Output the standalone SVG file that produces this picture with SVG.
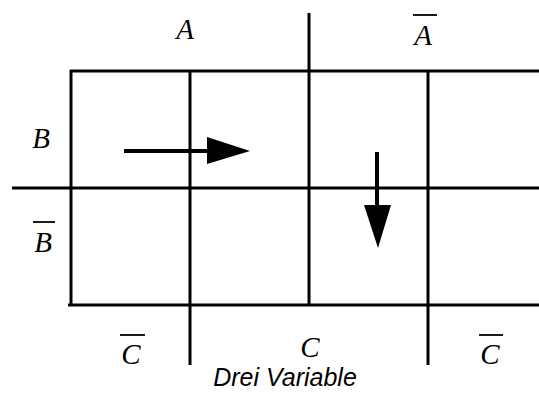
<svg xmlns="http://www.w3.org/2000/svg" width="539" height="394" viewBox="0 0 539 394">
<style>
.g{stroke:#000;stroke-width:3;fill:none}
.v{font-family:"Liberation Serif",serif;font-style:italic;font-size:29px;fill:#000;text-anchor:middle}
.ob{stroke:#000;stroke-width:1.8}
.cap{font-family:"Liberation Sans",sans-serif;font-style:italic;font-size:25px;fill:#000;text-anchor:middle}
</style>
<rect width="539" height="394" fill="#fff"/>
<g id="grid" class="g">
<line x1="70" y1="71" x2="539" y2="71"/>
<line x1="12" y1="188" x2="539" y2="188"/>
<line x1="68" y1="305" x2="539" y2="305"/>
<line x1="71" y1="70" x2="71" y2="305"/>
<line x1="190" y1="70" x2="190" y2="365"/>
<line x1="309" y1="13" x2="309" y2="305"/>
<line x1="428" y1="70" x2="428" y2="365"/>
</g>
<g id="labels">
<text class="v" x="185" y="39">A</text>
<text class="v" x="423" y="45">A</text><line class="ob" x1="413" y1="15" x2="437" y2="15"/>
<text class="v" x="41" y="148">B</text>
<text class="v" x="43" y="252">B</text><line class="ob" x1="33" y1="222" x2="55" y2="222"/>
<text class="v" x="131" y="364">C</text><line class="ob" x1="120" y1="335" x2="145" y2="335"/>
<text class="v" x="310" y="357">C</text>
<text class="v" x="490" y="364">C</text><line class="ob" x1="479" y1="335" x2="503" y2="335"/>
<text class="cap" x="285" y="386">Drei Variable</text>
</g>
<g id="connectors">
<line x1="124" y1="151" x2="208" y2="151" stroke="#000" stroke-width="4"/>
<polygon points="207,137 250,151 207,164" fill="#000"/>
<line x1="377" y1="152" x2="377" y2="206" stroke="#000" stroke-width="4"/>
<polygon points="364,205 391,205 378,248" fill="#000"/>
</g>
</svg>
